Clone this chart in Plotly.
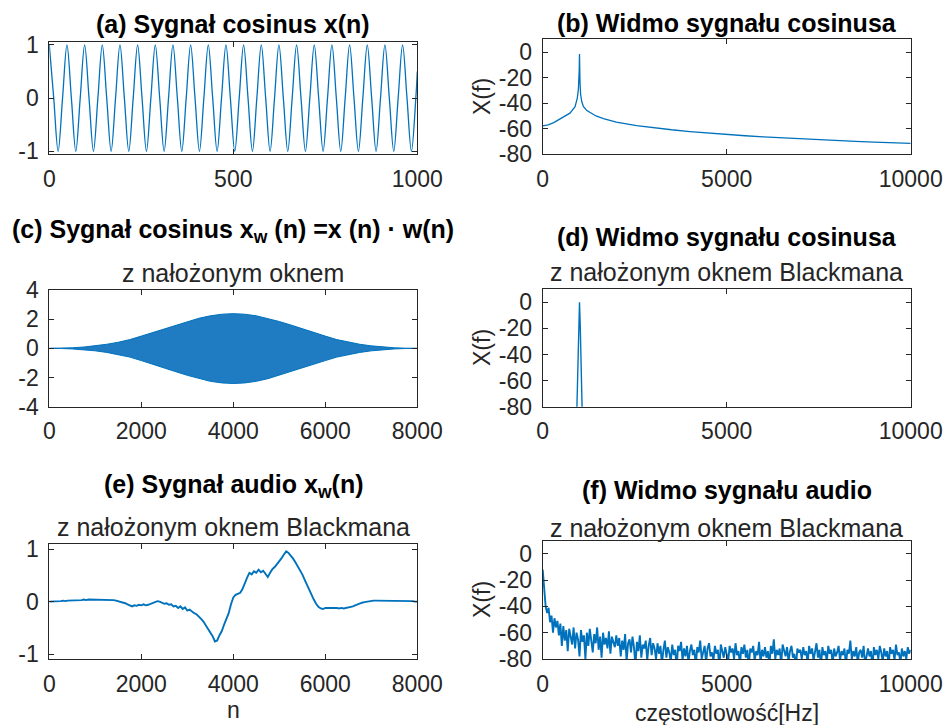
import plotly.graph_objects as go

# ---------------- data ----------------
# (a) cosine x(n): samples at extrema / zero crossings (period 48 samples)
cos_n = list(range(0, 1000, 12)) + [1000]
cos_x = [1, 0, -1, 0, 1, 0, -1, 0, 1, 0, -1, 0, 1, 0, -1, 0, 1, 0, -1, 0,
         1, 0, -1, 0, 1, 0, -1, 0, 1, 0, -1, 0, 1, 0, -1, 0, 1, 0, -1, 0,
         1, 0, -1, 0, 1, 0, -1, 0, 1, 0, -1, 0, 1, 0, -1, 0, 1, 0, -1, 0,
         1, 0, -1, 0, 1, 0, -1, 0, 1, 0, -1, 0, 1, 0, -1, 0, 1, 0, -1, 0,
         1, 0, -1, 0, 0.5]

# (b) spectrum of cosine (dB)
b_freq = [0, 150, 300, 470, 600, 740, 880, 940, 970, 985, 992, 997, 1000,
          1003, 1008, 1015, 1030, 1060, 1105, 1200, 1290, 1450, 1650, 2000,
          2550, 3000, 3500, 4000, 4500, 5000, 5500, 6000, 6500, 7000, 7500,
          8000, 8500, 9000, 9500, 10000]
b_db = [-57.8, -57.0, -55.2, -52.2, -50.0, -47.8, -42.8, -36.0, -29.0, -22.0,
        -14.0, -5.0, -1.5, -5.0, -14.0, -24.0, -33.0, -38.5, -42.5, -45.8,
        -47.5, -50.0, -52.0, -54.8, -57.5, -59.2, -60.8, -62.2, -63.4, -64.5,
        -65.5, -66.4, -67.2, -67.9, -68.6, -69.3, -69.9, -70.4, -70.9, -71.4]

# (c) windowed cosine: envelope of x_w(n)
c_n = list(range(0, 8001, 250))
c_upper = [0, 0.01, 0.04, 0.09, 0.17, 0.28, 0.42, 0.6, 0.84, 1.08, 1.33, 1.6,
           1.84, 2.06, 2.23, 2.34, 2.38, 2.34, 2.23, 2.06, 1.84, 1.6, 1.33,
           1.08, 0.84, 0.6, 0.42, 0.28, 0.17, 0.09, 0.04, 0.01, 0]
c_lower = [0, -0.01, -0.04, -0.09, -0.17, -0.28, -0.42, -0.6, -0.84, -1.08,
           -1.33, -1.6, -1.85, -2.08, -2.26, -2.37, -2.41, -2.37, -2.26, -2.08,
           -1.85, -1.6, -1.33, -1.08, -0.84, -0.6, -0.42, -0.28, -0.17, -0.09,
           -0.04, -0.01, 0]

# (d) spectrum with Blackman window (dB)
d_freq = [0, 880, 930, 960, 980, 1000, 1020, 1040, 1070, 1120, 10000]
d_db = [-140, -120, -80, -45, -18, 0, -18, -45, -80, -120, -150]

# (e) windowed audio signal
e_n = list(range(0, 8001, 50))
e_x = [0.00, 0.00, 0.01, 0.00, 0.01, 0.01, 0.02, 0.01, 0.02, 0.02,
       0.02, 0.03, 0.02, 0.03, 0.03, 0.04, 0.03, 0.04, 0.04, 0.03,
       0.04, 0.04, 0.03, 0.04, 0.03, 0.04, 0.03, 0.04, 0.03, 0.02,
       0.01, 0.00, -0.02, -0.03, -0.05, -0.07, -0.09, -0.07, -0.08, -0.06,
       -0.07, -0.05, -0.07, -0.06, -0.04, -0.02, -0.01, 0.01, 0.00, -0.02,
       -0.04, -0.03, -0.06, -0.05, -0.09, -0.08, -0.12, -0.09, -0.14, -0.11,
       -0.17, -0.15, -0.19, -0.22, -0.24, -0.28, -0.33, -0.38, -0.45, -0.51,
       -0.58, -0.66, -0.76, -0.74, -0.64, -0.56, -0.44, -0.34, -0.22, -0.05,
       0.08, 0.13, 0.15, 0.17, 0.24, 0.37, 0.46, 0.55, 0.52, 0.58,
       0.55, 0.61, 0.56, 0.59, 0.52, 0.47, 0.55, 0.62, 0.66, 0.71,
       0.76, 0.83, 0.90, 0.96, 0.93, 0.88, 0.82, 0.75, 0.68, 0.60,
       0.52, 0.42, 0.32, 0.21, 0.12, 0.04, -0.04, -0.10, -0.13, -0.14,
       -0.12, -0.12, -0.11, -0.12, -0.12, -0.12, -0.13, -0.12, -0.13, -0.12,
       -0.12, -0.11, -0.09, -0.07, -0.05, -0.03, -0.02, -0.01, 0.00, 0.01,
       0.01, 0.02, 0.02, 0.02, 0.02, 0.02, 0.02, 0.02, 0.02, 0.02,
       0.02, 0.02, 0.02, 0.01, 0.02, 0.01, 0.01, 0.01, 0.01, 0.00, 0.00]

# (f) spectrum of windowed audio (dB), bins every 40 Hz
f_freq = list(range(0, 10001, 40))
f_db = [-12, -30, -40, -45, -41, -52, -47, -60, -49, -56, -51,
        -62, -53, -70, -55, -66, -58, -74, -57, -63, -69, -56, -72, -60, -65, -78,
        -58, -67, -62, -80, -60, -70, -57, -66, -75, -61, -68, -56, -73, -63, -79,
        -60, -69, -64, -72, -59, -76, -63, -67, -71, -62,
        -70, -64, -78, -66, -73, -61, -82, -68, -65, -75, -63, -71, -85, -67, -74,
        -62, -79, -69, -72, -66, -81, -70, -64, -77, -68,
        -72, -80, -68, -76, -70, -84, -73, -66, -79, -71, -75, -82, -69, -77, -73,
        -86, -70, -74, -67, -81, -72, -78, -70, -83, -74,
        -69, -77, -73, -85, -71, -75, -66, -80, -74, -70, -83, -72, -68, -78, -75,
        -81, -70, -76, -73, -87, -69, -74, -79, -71, -76,
        -82, -70, -75, -72, -80, -68, -77, -74, -84, -71, -76, -69, -79, -73, -86,
        -72, -75, -70, -81, -74, -77, -67, -83, -73, -78,
        -71, -79, -74, -85, -70, -76, -65, -80, -73, -77, -72, -84, -69, -75, -78,
        -71, -82, -74, -70, -79, -76, -87, -72, -75, -73,
        -80, -71, -77, -74, -83, -70, -76, -72, -81, -75, -68, -79, -73, -86, -71,
        -77, -74, -82, -70, -76, -73, -84, -72, -78, -75,
        -70, -81, -74, -77, -72, -85, -73, -76, -66, -80, -74, -78, -71, -83, -75,
        -73, -79, -70, -84, -76, -72, -78, -74, -86, -71,
        -77, -73, -80, -70, -75, -82, -72, -78, -74, -85, -71, -76, -73, -81, -69,
        -77, -75, -83, -72, -78, -74, -80, -71, -76, -73]

titles = ["<b>(a) Sygnał cosinus x(n)</b>",
          "<b>(b) Widmo sygnału cosinusa</b>",
          "<b>(c) Sygnał cosinus x<sub>w</sub> (n) =x (n) · w(n)</b>",
          "<b>(d) Widmo sygnału cosinusa</b>",
          "<b>(e) Sygnał audio x<sub>w</sub>(n)</b>",
          "<b>(f) Widmo sygnału audio</b>"]
subtitles = ["z nałożonym oknem", "z nałożonym oknem Blackmana",
             "z nałożonym oknem Blackmana", "z nałożonym oknem Blackmana"]

tick_1 = [-1, 0, 1]
tick_1_txt = ["-1", "0", "1"]
tick_4 = [-4, -2, 0, 2, 4]
tick_4_txt = ["-4", "-2", "0", "2", "4"]
tick_db = [-80, -60, -40, -20, 0]
tick_db_txt = ["-80", "-60", "-40", "-20", "0"]
tick_n1000 = [0, 500, 1000]
tick_n8000 = [0, 2000, 4000, 6000, 8000]
tick_f = [0, 5000, 10000]

# ---------------- figure ----------------
BLUE = "#0072BD"
FONT = "Liberation Sans, Arial, Helvetica, sans-serif"
W, H = 944, 725

fig = go.Figure()
fig.add_trace(go.Scatter(x=cos_n, y=cos_x, mode="lines", line=dict(color=BLUE, width=1.3, shape="spline"),
                         xaxis="x", yaxis="y"))
fig.add_trace(go.Scatter(x=b_freq, y=b_db, mode="lines", line=dict(color=BLUE, width=1.3),
                         xaxis="x2", yaxis="y2"))
fig.add_trace(go.Scatter(x=c_n + c_n[::-1], y=c_upper + c_lower[::-1], mode="lines", fill="toself",
                         fillcolor="rgba(0,106,185,0.88)", line=dict(color=BLUE, width=1.0),
                         xaxis="x3", yaxis="y3"))
fig.add_trace(go.Scatter(x=d_freq, y=d_db, mode="lines", line=dict(color=BLUE, width=1.4),
                         xaxis="x4", yaxis="y4"))
fig.add_trace(go.Scatter(x=e_n, y=e_x, mode="lines", line=dict(color=BLUE, width=1.9),
                         xaxis="x5", yaxis="y5"))
fig.add_trace(go.Scatter(x=f_freq, y=f_db, mode="lines", line=dict(color=BLUE, width=1.9),
                         xaxis="x6", yaxis="y6"))


def px_x(p):
    return p / W


def px_y(p):
    return 1 - p / H


base = dict(showline=True, linecolor="#262626", linewidth=1, mirror="allticks",
            ticks="inside", ticklen=5, tickcolor="#262626", showgrid=False, zeroline=False,
            automargin=False, tickmode="array",
            tickfont=dict(family=FONT, size=23, color="#262626"))

xl = [px_x(49.3), px_x(417.3)]
xr = [px_x(542.7), px_x(910.7)]

layout_axes = {
    "xaxis": dict(base, domain=xl, anchor="y", range=[0, 1000], tickvals=tick_n1000,
                  ticktext=[str(v) for v in tick_n1000]),
    "yaxis": dict(base, domain=[px_y(154), px_y(42.3)], anchor="x", range=[-1.05, 1.05],
                  tickvals=tick_1, ticktext=tick_1_txt),
    "xaxis2": dict(base, domain=xr, anchor="y2", range=[0, 10000], tickvals=tick_f,
                   ticktext=[str(v) for v in tick_f]),
    "yaxis2": dict(base, domain=[px_y(154.3), px_y(39.3)], anchor="x2", range=[-80, 10],
                   tickvals=tick_db, ticktext=tick_db_txt),
    "xaxis3": dict(base, domain=xl, anchor="y3", range=[0, 8000], tickvals=tick_n8000,
                   ticktext=[str(v) for v in tick_n8000]),
    "yaxis3": dict(base, domain=[px_y(406.7), px_y(290)], anchor="x3", range=[-4, 4],
                   tickvals=tick_4, ticktext=tick_4_txt),
    "xaxis4": dict(base, domain=xr, anchor="y4", range=[0, 10000], tickvals=tick_f,
                   ticktext=[str(v) for v in tick_f]),
    "yaxis4": dict(base, domain=[px_y(406.7), px_y(289.3)], anchor="x4", range=[-80, 10],
                   tickvals=tick_db, ticktext=tick_db_txt),
    "xaxis5": dict(base, domain=xl, anchor="y5", range=[0, 8000], tickvals=tick_n8000,
                   ticktext=[str(v) for v in tick_n8000]),
    "yaxis5": dict(base, domain=[px_y(659.3), px_y(544)], anchor="x5", range=[-1.1, 1.1],
                   tickvals=tick_1, ticktext=tick_1_txt),
    "xaxis6": dict(base, domain=xr, anchor="y6", range=[0, 10000], tickvals=tick_f,
                   ticktext=[str(v) for v in tick_f]),
    "yaxis6": dict(base, domain=[px_y(659), px_y(540.7)], anchor="x6", range=[-80, 10],
                   tickvals=tick_db, ticktext=tick_db_txt),
}
for k, v in layout_axes.items():
    v["ticklabelstandoff"] = 4 if k.startswith("x") else 5

ann = []


def add_text(text, x, y, size, color="#000000", angle=0):
    ann.append(dict(text=text, x=px_x(x), y=px_y(y), xref="paper", yref="paper", showarrow=False,
                    xanchor="center", yanchor="middle", textangle=angle,
                    font=dict(family=FONT, size=size, color=color)))


TS = 25
add_text(titles[0], 233.3, 24, TS)
add_text(titles[1], 726.7, 23, TS)
add_text(titles[2], 233.3, 231, TS)
add_text(subtitles[0], 233.3, 273, TS, "#262626")
add_text(titles[3], 726.7, 237, TS)
add_text(subtitles[1], 726.7, 272, TS, "#262626")
add_text(titles[4], 233.3, 486, TS)
add_text(subtitles[2], 233.3, 527, TS, "#262626")
add_text(titles[5], 726.7, 490, TS)
add_text(subtitles[3], 726.7, 528, TS, "#262626")
for yy in [97, 348, 600]:
    add_text("X(f)", 482, yy, 23, "#262626", -90)
add_text("n", 233.3, 710, 23, "#262626")
add_text("częstotlowość[Hz]", 726.7, 713, 23, "#262626")

fig.update_layout(template="none", width=W, height=H, margin=dict(l=0, r=0, t=0, b=0, pad=0),
                  showlegend=False, paper_bgcolor="white", plot_bgcolor="white",
                  annotations=ann, **layout_axes)

fig.write_html("out.html", config={"displayModeBar": False},
               post_script="document.body.style.margin='0px';document.body.style.overflow='hidden';")
